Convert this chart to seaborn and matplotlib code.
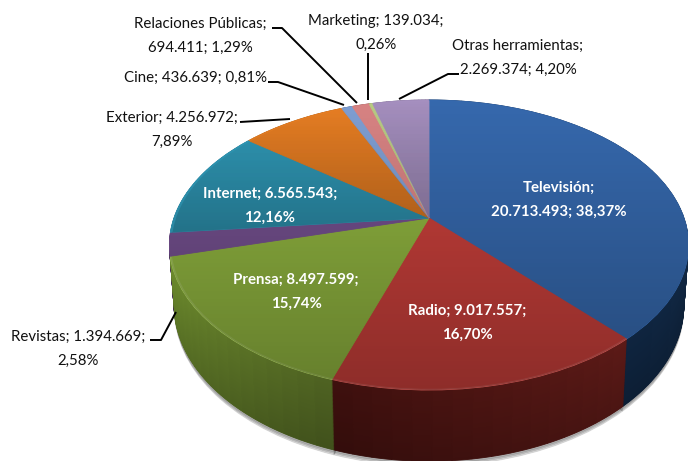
import numpy as np
import matplotlib
matplotlib.use('Agg')
import matplotlib.pyplot as plt
from matplotlib.colors import to_rgb
from matplotlib.patches import Circle
from matplotlib.transforms import Transform
import seaborn as sns

categories = ['Televisión', 'Radio', 'Prensa', 'Revistas', 'Internet', 'Exterior',
              'Cine', 'Relaciones Públicas', 'Marketing', 'Otras herramientas']
values = [20713493, 9017557, 8497599, 1394669, 6565543, 4256972,
          436639, 694411, 139034, 2269374]
labels = ['Televisión;\n20.713.493; 38,37%', 'Radio; 9.017.557;\n16,70%',
          'Prensa; 8.497.599;\n15,74%', 'Revistas; 1.394.669;\n2,58%',
          'Internet; 6.565.543;\n12,16%', 'Exterior; 4.256.972;\n7,89%',
          'Cine; 436.639; 0,81%', 'Relaciones Públicas;\n694.411; 1,29%',
          'Marketing; 139.034;\n0,26%', 'Otras herramientas;\n2.269.374; 4,20%']

top_colors = ['#3669ae', '#c9403b', '#90b440', '#74508f', '#319dbc', '#ea8024',
              '#7f9fd3', '#d98484', '#b9cc84', '#a690c0']
wall_left = ['#1a3352', '#5c1a17', '#6f8e2e', '#4a2f60', '#1c5a70', '#8a4d15',
             '#4a6080', '#804d4d', '#6f7b50', '#5f5070']
wall_right = ['#0f2540', '#3f100e', '#4f6322', '#4a2f60', '#1c5a70', '#8a4d15',
              '#4a6080', '#804d4d', '#6f7b50', '#5f5070']

# label centre in pixels
label_xy = [(559, 200), (467, 323), (296, 292), (78, 349), (270, 206),
            (172, 130), (195, 78), (200, 36), (376, 33), (518, 58)]
label_white = [True, True, True, False, True, False, False, False, False, False]

leaders = [([150, 161, 176], [340, 340, 312]),
           ([240, 290], [122, 119]),
           ([268, 278, 344], [82, 82, 105]),
           ([272, 282, 357], [28, 28, 103]),
           ([368, 368], [53, 100]),
           ([459, 448, 399], [74, 74, 99])]

CX, CY = 429, 218
A, B, K, D = 255, 140, 0.186, 58
SUB = 16
LAYERS = 90


class Persp(Transform):
    # unit pie circle -> tilted disc in pixels
    input_dims = 2
    output_dims = 2

    def __init__(self, z=0.0):
        super().__init__()
        self.z = z

    def transform_non_affine(self, xy):
        xy = np.asarray(xy, dtype=float)
        x, y = xy[:, 0], xy[:, 1]
        w = 1 + K * y
        s = 1 - 0.018 * self.z
        return np.column_stack([CX + A * x * s / w, CY - B * y / w + D * self.z / w])


def mix(c1, c2, t):
    return tuple(np.array(to_rgb(c1)) * (1 - t) + np.array(to_rgb(c2)) * t)


sns.set_theme(style='white')
plt.rcParams['font.family'] = ['Lato', 'DejaVu Sans']

fig = plt.figure(figsize=(6.88, 4.61), dpi=100)
ax = fig.add_axes([0, 0, 1, 1])


def draw_pie(vals, colors, z=0.0, radius=1.0, alpha=None):
    wedges, _ = ax.pie(vals, colors=colors, startangle=90, counterclock=False, radius=radius,
                       wedgeprops=dict(linewidth=0.6, alpha=alpha))
    tr = Persp(z) + ax.transData
    for w in wedges:
        w.set_edgecolor(w.get_facecolor())
        w.set_transform(tr)
    return wedges


# soft shadow below the wall
for z in [1.07, 1.05, 1.03]:
    draw_pie(values, ['#000000'] * len(values), z=z, alpha=0.12)

# wall, drawn from the bottom layer up, split up so it shades along the rim
sub_vals = np.repeat(np.array(values) / SUB, SUB)
for z in np.linspace(1, 0, LAYERS):
    cols = []
    for i in range(len(values)):
        for j in range(SUB):
            cols.append(mix(mix(wall_right[i], wall_left[i], j / (SUB - 1) if i == 2 else 1 - j / (SUB - 1)),
                            '#000000', 0.18 * z))
    draw_pie(sub_vals, cols, z=z)

# top face with a thin lighter rim on the red and green slices
rim = [mix(c, '#ffffff', 0.12) if i in (1, 2) else c for i, c in enumerate(top_colors)]
draw_pie(values, rim)
top_wedges = draw_pie(values, top_colors, radius=0.992)

# vertical darkening over the top face
grad = np.zeros((300, 1, 4))
grad[:, 0, 3] = np.linspace(0, 0.3, 300)
im = ax.imshow(grad, extent=(0, 688, 395, 95), aspect='auto', zorder=2)
disc = Circle((0, 0), 1.0, transform=Persp(0) + ax.transData, facecolor='none', edgecolor='none')
ax.add_patch(disc)
im.set_clip_path(disc)

# the small upper slices fade faster towards the centre
for i in [4, 5, 9]:
    fade = np.zeros((200, 1, 4))
    fade[:, 0, 3] = np.linspace(0, 0.2, 200)
    im2 = ax.imshow(fade, extent=(0, 688, 270, 100), aspect='auto', zorder=2)
    im2.set_clip_path(top_wedges[i])

for xs, ys in leaders:
    ax.plot(xs, ys, color='black', lw=1.4, zorder=3, solid_capstyle='butt')

for lab, (x, y), white in zip(labels, label_xy, label_white):
    ax.text(x, y, lab, ha='center', va='center', fontsize=10.85, linespacing=1.95, zorder=4,
            color='white' if white else '#111111', fontweight='bold' if white else 'normal')

ax.set_aspect('auto')
ax.set_xlim(0, 688)
ax.set_ylim(461, 0)
ax.axis('off')
fig.savefig('out.png', dpi=100)
